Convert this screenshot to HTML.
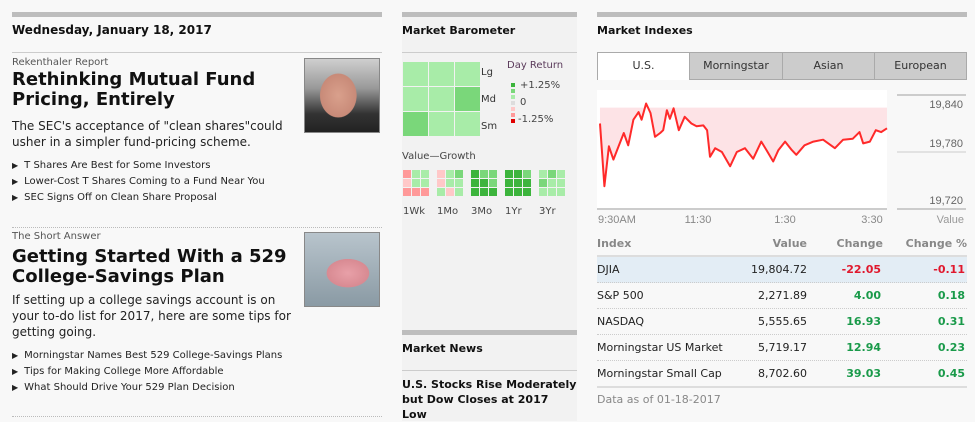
<!DOCTYPE html>
<html><head><meta charset="utf-8"><style>
*{margin:0;padding:0;box-sizing:border-box}
body{width:975px;height:421px;overflow:hidden;background:#f8f8f8;font-family:"DejaVu Sans","Liberation Sans",sans-serif;color:#111;position:relative}
.a{position:absolute;white-space:nowrap}
.bar{position:absolute;height:5px;background:#bdbdbd}
.hl{position:absolute;height:1px;background:#ccc}
.dl{position:absolute;height:0;border-top:1px dotted #bbb}
.h{font-weight:bold;font-size:11px}
.hd{font-weight:bold;font-size:18px;line-height:20px}
.ds{font-size:12px;line-height:16px;color:#222}
.bl{font-size:10px;line-height:16px;color:#222}
.bl span{font-size:8px;margin-right:6px}
.cell{position:absolute}
.tab{position:absolute;top:52px;height:28px;border:1px solid #aaa;background:#ccc;font-size:11px;line-height:26px;text-align:center;color:#333}
.tr{position:absolute;left:597px;width:370px;height:26px;font-size:11px;line-height:26px;border-bottom:1px dotted #ccc}
.tr div{position:absolute;top:0}
.g{color:#1a9a4a;font-weight:bold}.r{color:#e0182d;font-weight:bold}
</style></head><body>
<!-- left column -->
<div class="bar" style="left:12px;top:12px;width:370px"></div>
<div class="a h" style="left:12px;top:23px;font-size:12px">Wednesday, January 18, 2017</div>
<div class="hl" style="left:12px;top:52px;width:370px"></div>
<div class="a" style="left:12px;top:57px;font-size:10px;color:#555">Rekenthaler Report</div>
<div class="a hd" style="left:12px;top:70px">Rethinking Mutual Fund<br>Pricing, Entirely</div>
<div class="a ds" style="left:12px;top:118px">The SEC's acceptance of "clean shares"could<br>usher in a simpler fund-pricing scheme.</div>
<div class="a bl" style="left:12px;top:158px"><span>▶</span>T Shares Are Best for Some Investors<br><span>▶</span>Lower-Cost T Shares Coming to a Fund Near You<br><span>▶</span>SEC Signs Off on Clean Share Proposal</div>
<div class="a" style="left:304px;top:58px;width:76px;height:75px;border:1px solid #888;background:radial-gradient(ellipse 30px 36px at 45% 50%,#d9a08c 0,#c88a78 60%,transparent 62%),linear-gradient(#cfcfcf,#999 40%,#333 75%,#222)"></div>
<div class="dl" style="left:12px;top:227px;width:370px"></div>
<div class="a" style="left:12px;top:231px;font-size:10px;color:#555">The Short Answer</div>
<div class="a hd" style="left:12px;top:247px">Getting Started With a 529<br>College-Savings Plan</div>
<div class="a ds" style="left:12px;top:292px">If setting up a college savings account is on<br>your to-do list for 2017, here are some tips for<br>getting going.</div>
<div class="a bl" style="left:12px;top:348px"><span>▶</span>Morningstar Names Best 529 College-Savings Plans<br><span>▶</span>Tips for Making College More Affordable<br><span>▶</span>What Should Drive Your 529 Plan Decision</div>
<div class="a" style="left:304px;top:232px;width:76px;height:75px;border:1px solid #888;background:radial-gradient(ellipse 30px 20px at 58% 55%,#e8a0a8 0,#d88a92 70%,transparent 72%),linear-gradient(#b8c4cc,#8a9aa4)"></div>
<div class="dl" style="left:12px;top:416px;width:370px"></div>

<!-- middle column -->
<div class="a" style="left:402px;top:12px;width:175px;height:409px;background:#f2f2f2"></div>
<div class="bar" style="left:402px;top:12px;width:175px"></div>
<div class="a h" style="left:402px;top:24px">Market Barometer</div>
<div class="hl" style="left:402px;top:52px;width:175px"></div>
<div id="baro"></div>
<div class="a" style="left:481px;top:59px;font-size:10px;line-height:27px;color:#333">Lg<br>Md<br>Sm</div>
<div class="a" style="left:507px;top:60px;font-size:10px;color:#5a3a5a">Day Return</div>
<div id="leg"></div>
<div class="a" style="left:520px;top:80px;font-size:10px;color:#444">+1.25%</div>
<div class="a" style="left:520px;top:97px;font-size:10px;color:#444">0</div>
<div class="a" style="left:518px;top:114px;font-size:10px;color:#444">-1.25%</div>
<div class="a" style="left:402px;top:151px;font-size:10px;color:#444">Value—Growth</div>
<div id="mini"></div>
<div class="a" style="left:403px;top:206px;font-size:10px;color:#444;word-spacing:0"><span style="position:absolute;left:0">1Wk</span><span style="position:absolute;left:34px">1Mo</span><span style="position:absolute;left:68px">3Mo</span><span style="position:absolute;left:102px">1Yr</span><span style="position:absolute;left:136px">3Yr</span></div>
<div class="bar" style="left:402px;top:330px;width:175px"></div>
<div class="a h" style="left:402px;top:342px">Market News</div>
<div class="hl" style="left:402px;top:370px;width:175px"></div>
<div class="a h" style="left:402px;top:377px;font-size:11px;line-height:15px">U.S. Stocks Rise Moderately<br>but Dow Closes at 2017<br>Low</div>

<!-- right column -->
<div class="bar" style="left:597px;top:12px;width:370px"></div>
<div class="a h" style="left:597px;top:24px">Market Indexes</div>
<div class="tab" style="left:597px;width:93px;background:#fff;border-bottom:none">U.S.</div>
<div class="tab" style="left:689px;width:94px">Morningstar</div>
<div class="tab" style="left:782px;width:93px">Asian</div>
<div class="tab" style="left:874px;width:93px">European</div>
<svg id="chart" class="a" style="left:0;top:0" width="975" height="421"></svg>

<div class="a" style="left:597px;top:237px;width:370px;height:20px;font-size:11px;font-weight:bold;color:#888;border-bottom:2px solid #ddd">
<span style="position:absolute;left:0">Index</span><span style="position:absolute;right:160px">Value</span><span style="position:absolute;right:84px">Change</span><span style="position:absolute;right:0">Change %</span></div>
<div id="rows"></div>
<div class="hl" style="left:597px;top:386px;width:370px;height:2px;background:#ddd"></div>
<div class="a" style="left:597px;top:393px;font-size:11px;color:#888">Data as of 01-18-2017</div>

<script>
// ---- barometer data ----
const C={L:'#a8eca8',M:'#7ad77a',D:'#3cb43c',P:'#ffc8c8',R:'#ff9999',Z:'#dddddd',X:'#e00000'};
const baroCells=['LLL','LLM','MLL'];
const periods=['1Wk','1Mo','3Mo','1Yr','3Yr'];
const periodCells=[['RLL','PLL','RRR'],['PLM','PLL','LPL'],['DMM','DDM','DDD'],['DDM','DDD','DDD'],['LML','MLL','LLL']];
const legendColors=['D','M','L','Z','P','R','X'];
// ---- chart data ----
const times=[4,10,16,22,29,36,42,49,56,60,66,72,78,85,89,94,98,103,110,118,127,134,143,148,152,159,168,179,188,199,210,221,228,237,244,253,262,268,279,291,304,320,331,344,353,358,367,375,382,390];
const values=[19810,19744,19786,19772,19786,19800,19787,19814,19822,19814,19831,19821,19796,19800,19803,19824,19815,19826,19803,19817,19810,19807,19808,19803,19775,19784,19780,19765,19780,19784,19773,19791,19782,19770,19782,19791,19782,19777,19787,19791,19793,19784,19793,19794,19801,19789,19791,19803,19801,19805];
const prevClose=19826.77;
const yTicks=[19840,19780,19720];
const yTickLabels=['19,840','19,780','19,720'];
const xTickLabels=['9:30AM','11:30','1:30','3:30'];
const xTickTimes=[0,120,240,360];
// ---- table data ----
const idxNames=['DJIA','S&P 500','NASDAQ','Morningstar US Market','Morningstar Small Cap'];
const idxValues=['19,804.72','2,271.89','5,555.65','5,719.17','8,702.60'];
const idxChanges=[-22.05,4.00,16.93,12.94,39.03];
const idxPct=[-0.11,0.18,0.31,0.23,0.45];

function sq(x,y,w,h,col,name){const d=document.createElement('div');d.className='cell';


d.style.cssText=`left:${x}px;top:${y}px;width:${w}px;height:${h}px;background:${col}`;document.body.appendChild(d);}
baroCells.forEach((row,r)=>[...row].forEach((c,k)=>sq(403+k*26,62+r*25,25,24,C[c],'barometer-cell')));
legendColors.forEach((c,i)=>sq(511,83+i*6,4,4,C[c],'legend-swatch'));
periodCells.forEach((g,p)=>g.forEach((row,r)=>[...row].forEach((c,k)=>sq(403+p*34+k*9,170+r*9,8,8,C[c],'period-cell-'+periods[p]))));

const NS='http://www.w3.org/2000/svg',svg=document.getElementById('chart');
function el(t,a,name){const e=document.createElementNS(NS,t);for(const k in a)e.setAttribute(k,a[k]);


svg.appendChild(e);return e;}
const X0=597,X1=887,Y0=95,Y1=209;
const xs=t=>X0+t/390*(X1-X0);
const ys=v=>Y0+(19840-v)/(19840-19720)*(Y1-Y0);
el('rect',{x:597,y:90,width:290,height:119,fill:'#fff'},'plot-background');
let pts=times.map((t,i)=>xs(t).toFixed(1)+','+ys(values[i]).toFixed(1));
el('polygon',{points:xs(times[0])+','+ys(prevClose)+' '+pts.join(' ')+' '+xs(times[times.length-1])+','+ys(prevClose),fill:'#fde3e6'},'below-close-fill');
el('polyline',{points:pts.join(' '),fill:'none',stroke:'#ff2a2a','stroke-width':2,'stroke-linejoin':'round'},'dow-line');
el('line',{x1:597,x2:887,y1:209,y2:209,stroke:'#ccc','stroke-width':2},'x-axis-line');
yTicks.forEach((v,i)=>{el('line',{x1:897,x2:966,y1:ys(v),y2:ys(v),stroke:'#ccc','stroke-width':i==1?1:2},'y-gridline');
const t=el('text',{x:963,y:i==0?ys(v)+13:ys(v)-5,'text-anchor':'end','font-size':11,fill:'#666','font-family':'Liberation Sans, sans-serif'},'y-tick-label');t.textContent=yTickLabels[i];});
xTickLabels.forEach((l,i)=>{const t=el('text',{x:i==0?598:611+xTickTimes[i]/60*43.5,y:223,'text-anchor':i==0?'start':'middle','font-size':11,fill:'#888','font-family':'Liberation Sans, sans-serif'},'x-tick-label');t.textContent=l;});
const vt=el('text',{x:964,y:223,'text-anchor':'end','font-size':11,fill:'#999','font-family':'Liberation Sans, sans-serif'},'value-axis-title');vt.textContent='Value';

const rows=document.getElementById('rows');
idxNames.forEach((n,i)=>{const r=document.createElement('div');r.className='tr';


r.style.top=(257+i*26)+'px';if(i==0)r.style.background='#e3edf5';if(i==4)r.style.borderBottom='none';
const cls=idxChanges[i]<0?'r':'g';
r.innerHTML=`<div style="left:0;color:#222">${n.replace('&','&amp;')}</div><div style="right:160px;color:#222">${idxValues[i]}</div><div class="${cls}" style="right:86px">${idxChanges[i].toFixed(2)}</div><div class="${cls}" style="right:2px">${idxPct[i].toFixed(2)}</div>`;
rows.appendChild(r);});
</script>
</body></html>
